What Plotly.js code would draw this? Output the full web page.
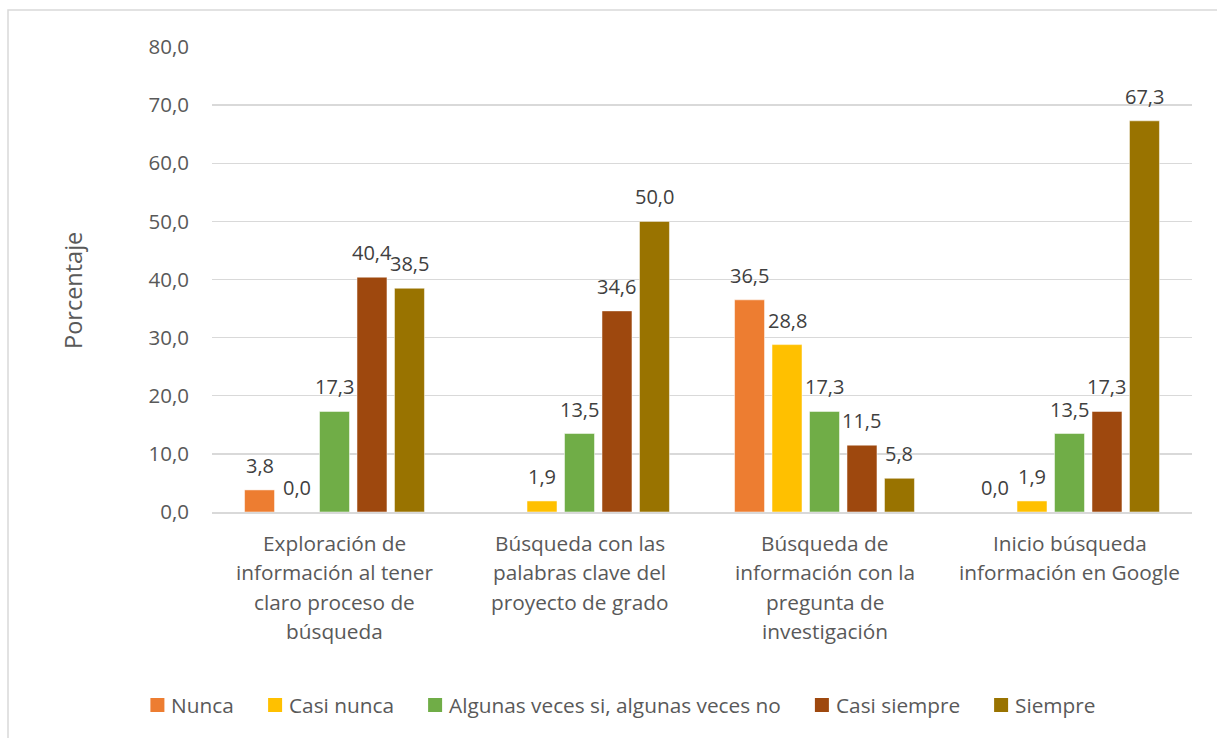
<!DOCTYPE html>
<html><head><meta charset="utf-8">
<script src="https://cdn.plot.ly/plotly-3.0.1.min.js"></script>
<style>html,body{margin:0;padding:0;background:#fff}#chart{width:1217px;height:738px}</style>
</head><body><div id="chart"></div>
<script>
const categories = [
  ["Exploración de","información al tener","claro proceso de","búsqueda"],
  ["Búsqueda con las","palabras clave del","proyecto de grado"],
  ["Búsqueda de","información con la","pregunta de","investigación"],
  ["Inicio búsqueda","información en Google"]
];
const seriesNames = ["Nunca","Casi nunca","Algunas veces si, algunas veces no","Casi siempre","Siempre"];
const nunca      = [3.8, null, 36.5, 0.0];
const casiNunca  = [0.0, 1.9, 28.8, 1.9];
const algunas    = [17.3, 13.5, 17.3, 13.5];
const casiSiempre= [40.4, 34.6, 11.5, 17.3];
const siempre    = [38.5, 50.0, 5.8, 67.3];
const colors = ["#ED7D31","#FFC000","#70AD47","#9E480E","#997300"];
const yTicks = [0,10,20,30,40,50,60,70,80];
const yTitle = "Porcentaje";

const font = "'Open Sans', sans-serif";
const grey = "#595959";
const W = 1217, H = 738;
const M = {l:212, r:25, t:47, b:226};
const plotW = W - M.l - M.r, plotH = H - M.t - M.b;
const bargap = 0.235;
const nS = seriesNames.length;
const slot = (1 - bargap) / nS;
const values = [nunca, casiNunca, algunas, casiSiempre, siempre];
const catIdx = categories.map((c,i)=>i);

const traces = values.map((v,i)=>({
  type:"bar", name:seriesNames[i], x:catIdx, y:v,
  marker:{color:colors[i], line:{color:"#ffffff", width:0.5}},
  hoverinfo:"none", showlegend:false
}));

const fmt = v => v.toFixed(1).replace(".", ",");
const annotations = [];
// data labels
values.forEach((v,i)=>{
  v.forEach((val,ci)=>{
    if (val === null) return;
    annotations.push({xref:"x", yref:"y", x: ci + (i - (nS-1)/2) * slot, y: val,
      yanchor:"bottom", yshift:9, text: fmt(val), showarrow:false,
      font:{family:font, size:20, color:"#404040"}});
  });
});
// category labels
categories.forEach((lines,ci)=>{
  lines.forEach((ln,li)=>{
    annotations.push({xref:"x", yref:"paper", x:ci, y:0, yanchor:"top",
      yshift:-15 - li*29.3, text:ln, showarrow:false,
      font:{family:font, size:20.8, color:grey}});
  });
});
// y title
annotations.push({xref:"paper", yref:"paper", x:(73-M.l)/plotW, y:(M.t+plotH-291)/plotH,
  xanchor:"center", yanchor:"middle", textangle:-90, text:yTitle, showarrow:false,
  font:{family:font, size:23.5, color:grey}});

// custom legend
const shapes = [{type:"rect", xref:"paper", yref:"paper", x0:(8-M.l)/plotW, x1:1.1,
  y0:-0.6, y1:(M.t+plotH-10)/plotH, line:{color:"#d9d9d9", width:1.5},
  fillcolor:"rgba(0,0,0,0)", layer:"below"}];
const legFont = 20.8, sq = 14, symGap = 6, itemGap = 35, legY = 705, legCenter = 622.5;
const ctx = document.createElement("canvas").getContext("2d");
ctx.font = legFont + "px 'Open Sans'";
const widths = seriesNames.map(n=>ctx.measureText(n).width);
const total = widths.reduce((a,w)=>a+sq+symGap+w,0) + itemGap*(nS-1);
let px = legCenter - total/2;
const toPX = p => (p - M.l)/plotW;
const toPY = p => (M.t + plotH - p)/plotH;
seriesNames.forEach((n,i)=>{
  shapes.push({type:"rect", xref:"paper", yref:"paper", x0:toPX(px), x1:toPX(px+sq),
    y0:toPY(legY+sq/2), y1:toPY(legY-sq/2), fillcolor:colors[i], line:{width:0}});
  annotations.push({xref:"paper", yref:"paper", x:toPX(px+sq+symGap), y:toPY(legY),
    xanchor:"left", yanchor:"middle", text:n, showarrow:false, borderpad:0,
    font:{family:font, size:legFont, color:grey}});
  px += sq + symGap + widths[i] + itemGap;
});

const layout = {
  width:W, height:H, margin:M,
  paper_bgcolor:"#ffffff", plot_bgcolor:"#ffffff",
  barmode:"group", bargap:bargap, bargroupgap:0.2,
  font:{family:font, color:grey},
  xaxis:{type:"linear", range:[-0.5, categories.length-0.5], showticklabels:false,
    showgrid:false, zeroline:false, showline:true, linecolor:"#d9d9d9", linewidth:1.5, ticks:""},
  yaxis:{range:[0,80], tickvals:yTicks, ticktext:yTicks.map(fmt), showgrid:true,
    gridcolor:"#d9d9d9", gridwidth:1.3, zeroline:false, showline:false, ticks:"",
    ticklabelstandoff:22, tickfont:{family:font, size:20.5, color:grey}},
  showlegend:false,
  annotations:annotations,
  shapes:shapes
};

Plotly.newPlot("chart", traces, layout, {staticPlot:true});
</script></body></html>
